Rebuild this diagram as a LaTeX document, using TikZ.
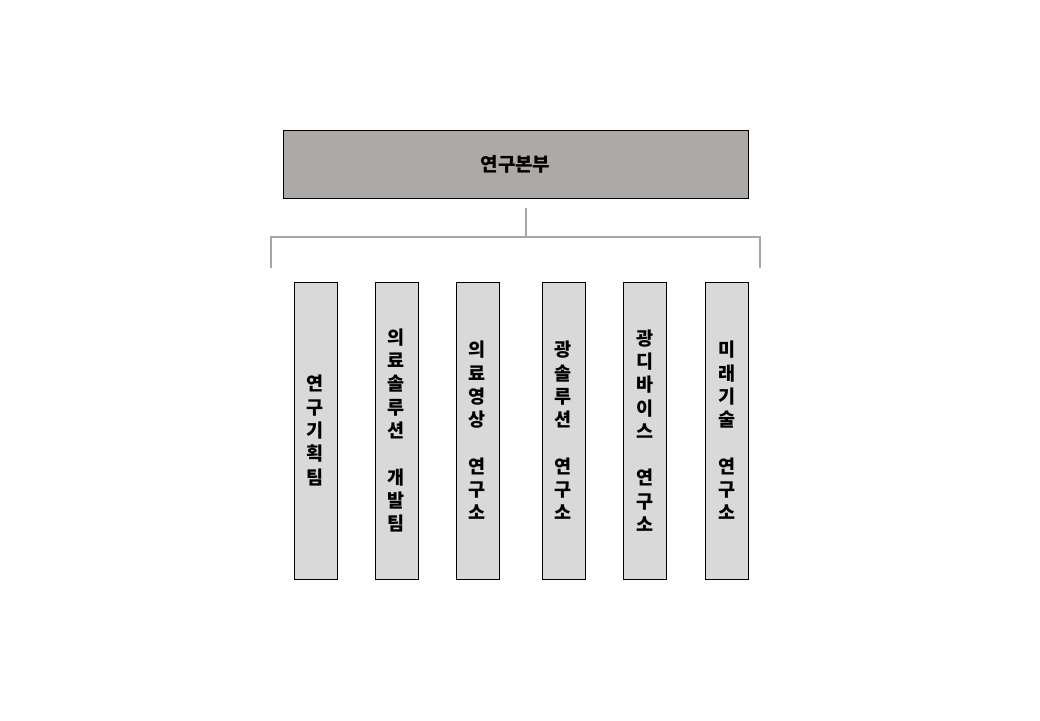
\documentclass[tikz,border=0pt]{standalone}
\usepackage{fontspec}
\setmainfont{Noto Sans CJK KR}
\usepackage{tikz}
\definecolor{hqgray}{HTML}{ADA9A7}
\definecolor{colgray}{HTML}{D9D9D9}
\definecolor{linegray}{HTML}{A6A6A6}

\begin{document}
\begin{tikzpicture}[x=1pt, y=-1pt,
	hqbox/.style={draw=black, line width=0.8pt, fill=hqgray, minimum width=465pt, minimum height=68pt, inner sep=0pt, font=\bfseries\fontsize{19}{22}\selectfont},
	colbox/.style={draw=black, line width=0.8pt, fill=colgray, minimum width=43pt, minimum height=297pt, inner sep=0pt, align=center, font=\bfseries\fontsize{18.5}{23.3}\selectfont},
	branch/.style={draw=linegray, line width=1.6pt}]
				\useasboundingbox (0,0) rectangle (1040,720);
				\node[hqbox] (hq) at (515.5,164) {연구본부};
				\node[colbox] (plan) at (315.5,430.5) {연\\구\\기\\획\\팀};
				\node[colbox] (medsol) at (396.5,430.5) {의\\료\\솔\\루\\션\\ \\개\\발\\팀};
				\node[colbox] (medimg) at (477.5,430.5) {의\\료\\영\\상\\ \\연\\구\\소};
				\node[colbox] (optsol) at (563.5,430.5) {광\\솔\\루\\션\\ \\연\\구\\소};
				\node[colbox] (optdev) at (644.5,430.5) {광\\디\\바\\이\\스\\ \\연\\구\\소};
				\node[colbox] (future) at (726.5,430.5) {미\\래\\기\\술\\ \\연\\구\\소};
				\coordinate (stem) at ([yshift=-10pt]hq.south -| 526,0);
				\coordinate (mid) at (526,237);
				\coordinate (leftend) at (271,268);
				\coordinate (rightend) at (760,268);
				\draw[branch] (stem) -- (mid);
				\draw[branch] (leftend) |- (mid) -| (rightend);
			\end{tikzpicture}
\end{document}
